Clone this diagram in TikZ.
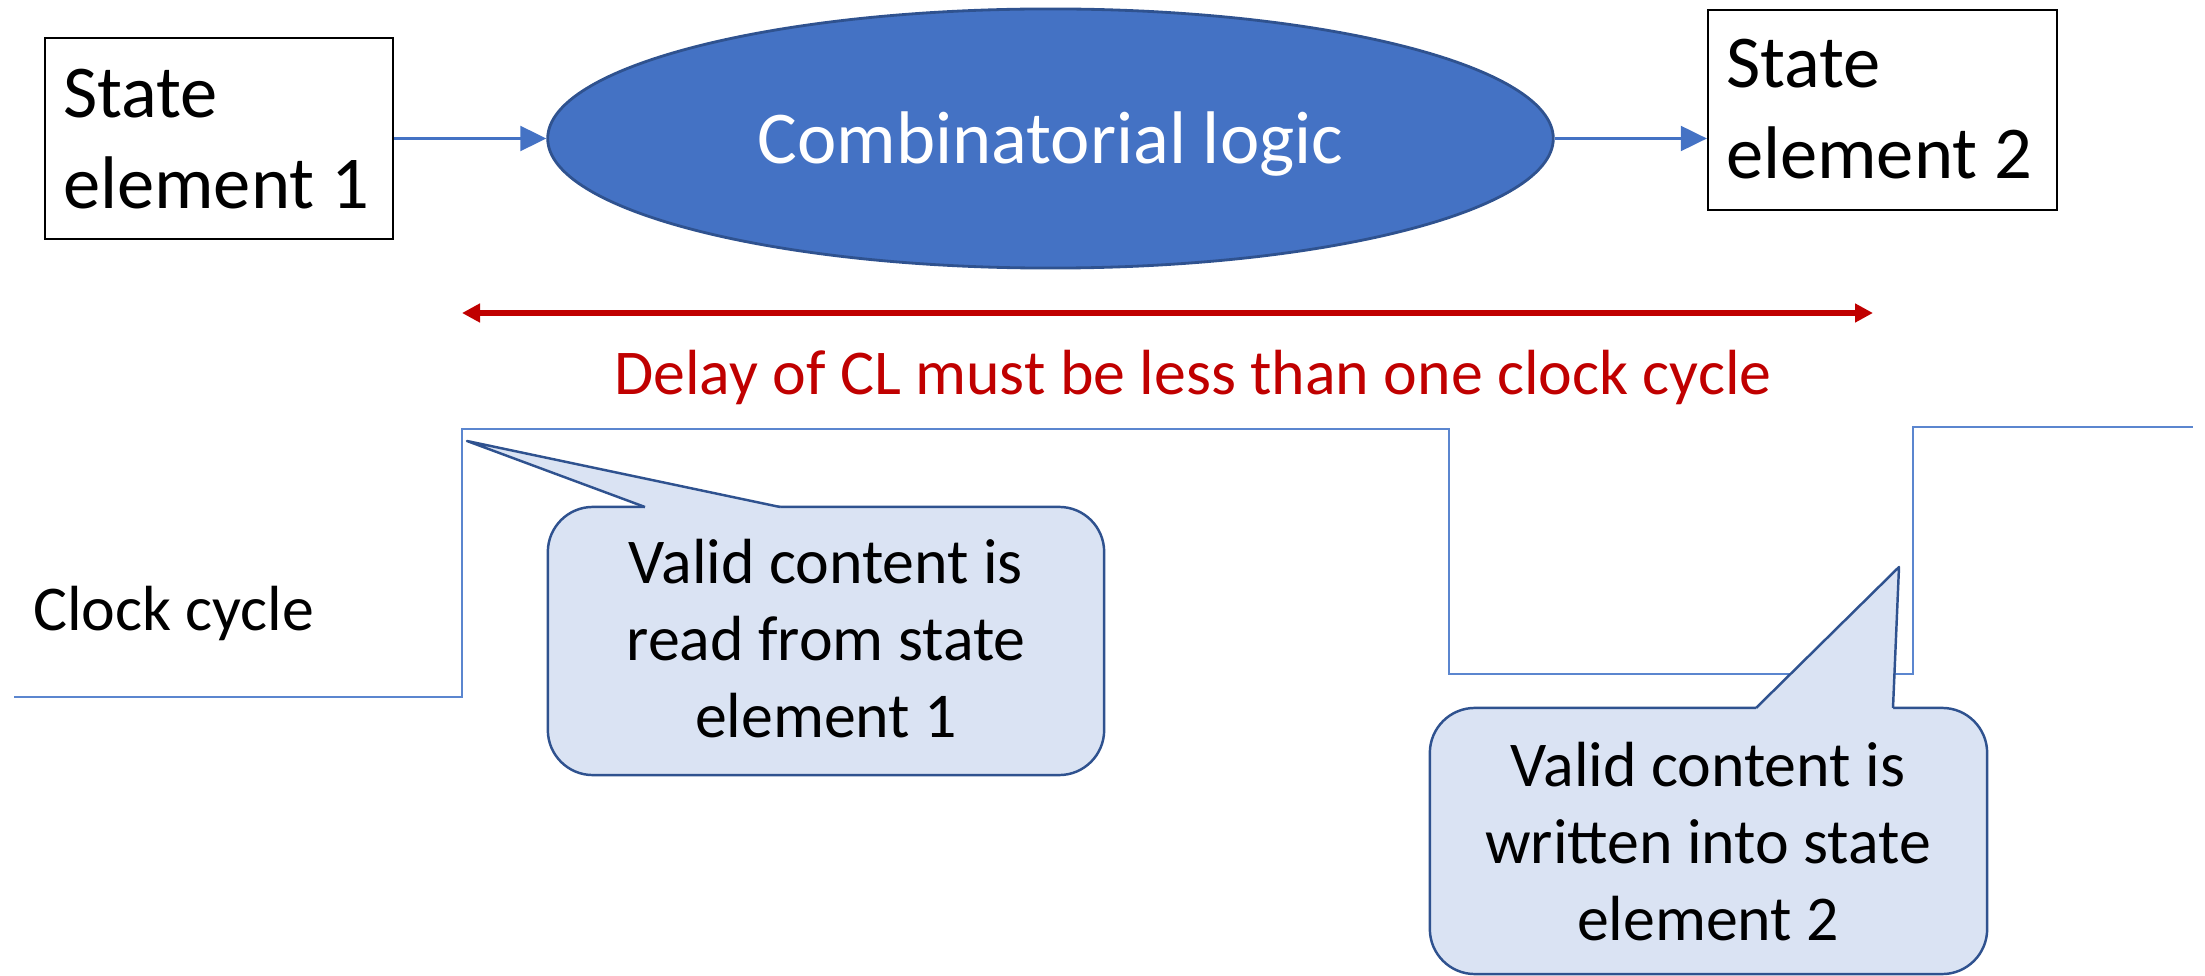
\documentclass[tikz,border=0pt]{standalone}
\usepackage{fontspec}
\setmainfont{Carlito}
\usetikzlibrary{shapes.geometric,arrows.meta,calc}
\definecolor{accent}{HTML}{4472C4}
\definecolor{accentdark}{HTML}{2F528F}
\definecolor{calloutfill}{HTML}{DAE3F3}
\definecolor{warnred}{HTML}{C00000}
\definecolor{clockblue}{HTML}{5B86CF}

\begin{document}
\begin{tikzpicture}[x=0.01cm, y=-0.01cm,
  bigtext/.style={font=\fontsize{21.2pt}{25.6pt}\selectfont},
  smalltext/.style={font=\fontsize{18.15pt}{21.9pt}\selectfont},
  statebox/.style={draw=black, line width=0.6pt, inner sep=0pt, rectangle},
  label text/.style={inner sep=0pt, outer sep=0pt},
  flow/.style={draw=accent, line width=0.6pt, -{Triangle[length=0.26cm, width=0.25cm]}},
  delayarrow/.style={draw=warnred, line width=1.65pt,
    {Triangle[length=0.18cm, width=0.18cm]}-{Triangle[length=0.18cm, width=0.18cm]}},
  clockline/.style={draw=clockblue, line width=0.55pt},
  bubble/.style={rectangle, draw=accentdark, fill=calloutfill, line width=0.7pt,
    rounded corners=0.45cm, inner sep=0pt},
  bubbletail/.style={draw=accentdark, line width=0.7pt, line join=round},
]
\useasboundingbox (0,0) rectangle (2205,976);

% state elements and the combinational block
\node[statebox, minimum width=3.48cm, minimum height=2.01cm] (box1) at (219,138.5) {};
\node[label text, bigtext, anchor=base west, align=flush left, text width=3.2cm] (box1text) at (63,118) {State\\element 1};

\node[statebox, minimum width=3.49cm, minimum height=2.00cm] (box2) at (1882.5,110) {};
\node[label text, bigtext, anchor=base west, align=flush left, text width=3.2cm] (box2text) at (1726,88) {State\\element 2};

\node[ellipse, fill=accent, draw=accentdark, line width=0.8pt, minimum width=10.05cm,
  minimum height=2.59cm, inner sep=0pt, text=white, bigtext,
  text height=0.49cm, text depth=0cm] (logic) at (1050.5,138.5) {Combinatorial logic};

\draw[flow] (box1.east) -- (box1.east -| logic.west);
\draw[flow] (logic.east) -- (logic.east -| box2.west);

% timing constraint
\coordinate (delayL) at (462,313);
\coordinate (delayR) at (1873,313);
\draw[delayarrow] (delayL) -- (delayR);
\node[label text, smalltext, text=warnred, anchor=base] (delay) at (1193,395)
  {Delay of CL must be less than one clock cycle};

% clock waveform
\node[label text, smalltext, anchor=base west] (clk) at (33,630) {Clock cycle};
\draw[clockline] (14,697) -- (462,697) -- (462,429) -- (1449,429) -- (1449,674)
  -- (1913,674) -- (1913,427) -- (2193,427);

% callout: read
\node[bubble, minimum width=5.56cm, minimum height=2.68cm] (note1) at (826,641) {};
\coordinate (tip1) at (467,441);
\coordinate (base1a) at (645,507);
\coordinate (base1b) at (780,507);
\fill[calloutfill] (base1a) -- (tip1) -- (base1b) -- ++(0,6) -- ($(base1a)+(0,6)$) -- cycle;
\draw[bubbletail] (base1a) -- (tip1) -- (base1b);
\node[label text, smalltext, anchor=base, align=flush center, text width=5cm] (note1text) at (826,583)
  {Valid content is\\read from state\\element 1};

% callout: write
\node[bubble, minimum width=5.57cm, minimum height=2.66cm] (note2) at (1708.5,841) {};
\coordinate (tip2) at (1899,567);
\coordinate (base2a) at (1756,708);
\coordinate (base2b) at (1893,708);
\fill[calloutfill] (base2a) -- (tip2) -- (base2b) -- ++(0,6) -- ($(base2a)+(0,6)$) -- cycle;
\draw[bubbletail] (base2a) -- (tip2) -- (base2b);
\node[label text, smalltext, anchor=base, align=flush center, text width=5cm] (note2text) at (1708,786)
  {Valid content is\\written into state\\element 2};
\end{tikzpicture}
\end{document}
